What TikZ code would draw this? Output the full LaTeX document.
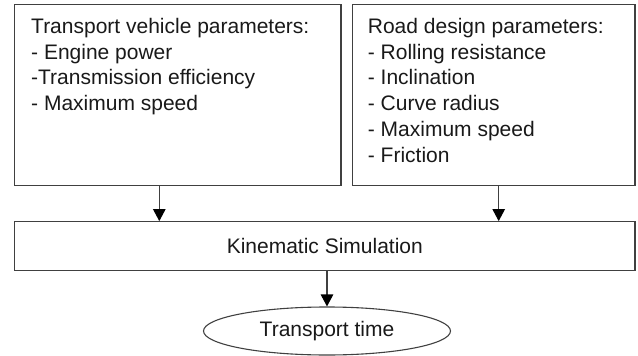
\documentclass[tikz,border=0pt]{standalone}
\usepackage{fontspec}
\setmainfont{Liberation Sans}
\usetikzlibrary{arrows.meta,shapes.geometric}
\definecolor{linegray}{HTML}{404040}
\begin{document}
\begin{tikzpicture}[x=1pt,y=-1pt,
  box/.style={draw=linegray, line width=1.2pt, rectangle, inner sep=0pt},
  list/.style={anchor=north west, align=left, inner sep=0pt,
    font=\fontsize{21}{25.7}\selectfont, text=black!90},
  label/.style={font=\fontsize{21}{25.7}\selectfont, text=black!90},
  flow/.style={draw=linegray, line width=1.1pt,
    -{Triangle[width=12.5pt,length=12pt,color=black]}}]
\useasboundingbox (0,0) rectangle (638,356);

% input boxes
\node[box, minimum width=326.3pt, minimum height=180.6pt] (vehicle) at (177.85,95) {};
\node[box, minimum width=282.3pt, minimum height=180.6pt] (road) at (493.85,95) {};

\node[list] (vehicletext) at (31,17.8)
  {\rule{0pt}{15.5pt}Transport vehicle parameters:\\
   - Engine power\\
   -Transmission efficiency\\
   - Maximum speed};
\node[list] (roadtext) at (367.7,17.8)
  {\rule{0pt}{15.5pt}Road design parameters:\\
   - Rolling resistance\\
   - Inclination\\
   - Curve radius\\
   - Maximum speed\\
   - Friction};

% simulation and result
\node[box, minimum width=620.3pt, minimum height=49pt, label] (sim) at (324.85,246.2)
  {Kinematic Simulation};
\node[draw=linegray, line width=1.1pt, ellipse, inner sep=0pt,
  minimum width=247pt, minimum height=48pt, label] (time) at (327,331)
  {Transport time};

% connectors
\coordinate (leftdrop) at (159.3,0);
\coordinate (rightdrop) at (498.7,0);
\draw[flow] (vehicle.south -| leftdrop) -- (sim.north -| leftdrop);
\draw[flow] (road.south -| rightdrop) -- (sim.north -| rightdrop);
\draw[flow] (sim.south -| time.north) -- (time.north);
\end{tikzpicture}
\end{document}
